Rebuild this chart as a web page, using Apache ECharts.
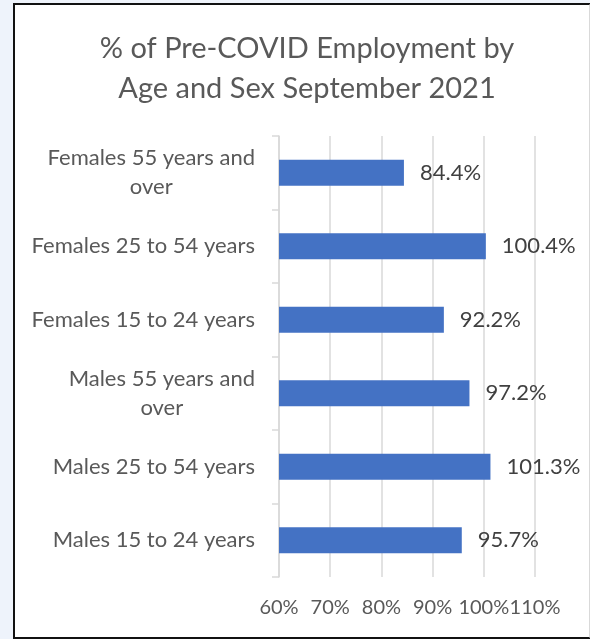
<!DOCTYPE html>
<html>
<head>
<meta charset="utf-8">
<script src="https://cdn.jsdelivr.net/npm/echarts@6/dist/echarts.min.js"></script>
<style>
  html, body { margin: 0; padding: 0; width: 590px; height: 639px; background: #eef3fb; overflow: hidden; }
  #frame { position: absolute; left: 13px; top: 3px; width: 574px; height: 632px; background: #ffffff;
           border-left: 2px solid #111; border-top: 2px solid #111; border-bottom: 2px solid #111; border-right: 2px solid #d9d9d9; }
  #chart { position: absolute; left: 0; top: 0; width: 590px; height: 639px; }
</style>
</head>
<body>
<div id="frame"></div>
<div id="chart"></div>
<script>
const titleLines = ['% of Pre-COVID Employment by', 'Age and Sex September 2021'];
const categories = [
  'Males 15 to 24 years',
  'Males 25 to 54 years',
  'Males 55 years and\nover',
  'Females 15 to 24 years',
  'Females 25 to 54 years',
  'Females 55 years and\nover'
];
const values = [95.7, 101.3, 97.2, 92.2, 100.4, 84.4];
const xMin = 60, xMax = 110, xStep = 10;

const FONT = 'Lato';
const FS = 22;
const chart = echarts.init(document.getElementById('chart'), null, { renderer: 'canvas' });
chart.setOption({
  backgroundColor: 'transparent',
  animation: false,
  title: {
    text: titleLines.join('\n'),
    left: 302, top: 24, textAlign: 'center',
    textStyle: { fontFamily: FONT, fontSize: 29, fontWeight: 'normal', color: '#595959', lineHeight: 40 }
  },
  grid: { left: 279, right: 55, top: 136, bottom: 62, containLabel: false },
  xAxis: {
    type: 'value', min: xMin, max: xMax, interval: xStep,
    axisLine: { show: false }, axisTick: { show: false },
    splitLine: { lineStyle: { color: '#d9d9d9', width: 1.5 } },
    axisLabel: { formatter: v => v + '%', margin: 21, fontFamily: FONT, fontSize: 20, color: '#595959' }
  },
  yAxis: {
    type: 'category', data: categories,
    axisLine: { show: true, lineStyle: { color: '#d9d9d9', width: 1.5 } },
    axisTick: { show: true, length: 7, lineStyle: { color: '#d9d9d9', width: 1.5 } },
    axisLabel: {
      margin: 24, fontFamily: FONT, fontSize: FS, color: '#595959', lineHeight: 29,
      formatter: v => v.split('\n').map(l => '{c|' + l + '}').join('\n'),
      rich: { c: { align: 'center', fontFamily: FONT, fontSize: FS, color: '#595959', lineHeight: 29 } }
    }
  },
  series: [{
    type: 'bar', data: values, barWidth: 26,
    itemStyle: { color: '#4472c4' },
    label: { show: true, position: 'right', distance: 16, formatter: p => p.value.toFixed(1) + '%',
             fontFamily: FONT, fontSize: FS, color: '#404040' }
  }]
});
</script>
</body>
</html>
